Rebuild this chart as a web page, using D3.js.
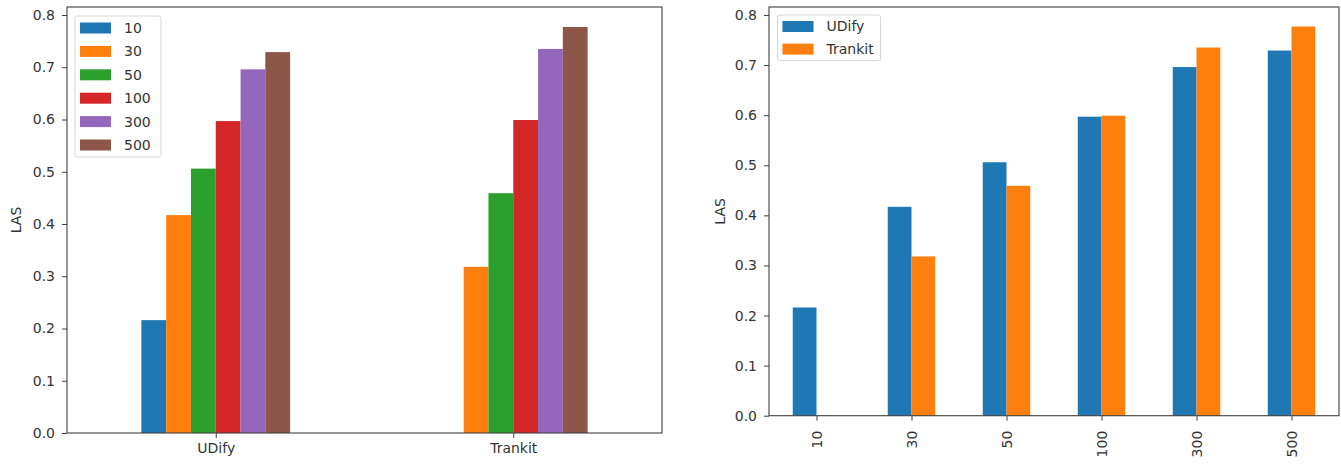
<!DOCTYPE html>
<html><head><meta charset="utf-8">
<script src="https://cdn.jsdelivr.net/npm/d3@7"></script>
<style>
html,body{margin:0;padding:0;background:#fff;}
text{font-family:"DejaVu Sans",sans-serif;}
</style></head>
<body><svg id="c" width="1341" height="464"></svg>
<script>
const models = ["UDify", "Trankit"];
const sizes = ["10", "30", "50", "100", "300", "500"];
const udify = [0.216, 0.417, 0.506, 0.597, 0.696, 0.729];
const trankit = [null, 0.318, 0.459, 0.599, 0.735, 0.777];
const yTicks = [0.0, 0.1, 0.2, 0.3, 0.4, 0.5, 0.6, 0.7, 0.8];
const sizeColors = ["#1f77b4", "#ff7f0e", "#2ca02c", "#d62728", "#9467bd", "#8c564b"];
const modelColors = ["#1f77b4", "#ff7f0e"];
const yLabel = "LAS";

const svg = d3.select("#c");
const byModel = [udify, trankit];
const FS = 14, TXT = "#333", AX = "#404040";

function panel(box, nCat, catLabels, nSer, getVal, colors, serLabels, rotate, legendW) {
  const x = d3.scaleLinear().domain([-0.5, nCat - 0.5]).range([box.l, box.r]);
  const y = d3.scaleLinear().domain([0, 0.8]).range([box.b, box.y08]);
  const g = svg.append("g");
  const total = 0.5, w = total / nSer;
  for (let s = 0; s < nSer; s++) {
    for (let c = 0; c < nCat; c++) {
      const v = getVal(s, c);
      if (v == null) continue;
      const x0 = x(c - total / 2 + s * w), x1 = x(c - total / 2 + (s + 1) * w);
      g.append("rect").attr("x", x0).attr("y", y(v)).attr("width", x1 - x0)
        .attr("height", y(0) - y(v)).attr("fill", colors[s]);
    }
  }
  // frame
  g.append("rect").attr("x", box.l).attr("y", box.t).attr("width", box.r - box.l)
    .attr("height", box.b - box.t).attr("fill", "none").attr("stroke", AX).attr("stroke-width", 1.1);
  // y axis
  const ya = g.append("g").attr("transform", `translate(${box.l},0)`)
    .call(d3.axisLeft(y).tickValues(yTicks).tickFormat(d3.format(".1f")).tickSize(5).tickPadding(7));
  ya.select(".domain").remove();
  ya.selectAll("line").attr("stroke", AX);
  ya.selectAll("text").attr("font-size", FS).attr("fill", TXT).style("font-family", "DejaVu Sans");
  // x axis
  const xa = g.append("g").attr("transform", `translate(0,${box.b})`)
    .call(d3.axisBottom(x).tickValues(d3.range(nCat)).tickFormat(i => catLabels[i]).tickSize(5).tickPadding(5));
  xa.select(".domain").remove();
  xa.selectAll("line").attr("stroke", AX);
  xa.selectAll("text").attr("font-size", FS).attr("fill", TXT).style("font-family", "DejaVu Sans");
  if (rotate) {
    xa.selectAll("text").attr("transform", "rotate(-90)").attr("text-anchor", "end")
      .attr("x", -15).attr("y", 0).attr("dy", "0.35em");
  }
  // y label
  g.append("text").attr("transform", `translate(${box.yl},${(box.t + box.b) / 2}) rotate(-90)`)
    .attr("text-anchor", "middle").attr("font-size", FS).attr("fill", TXT).text(yLabel);
  // legend
  const L = box.leg;
  const lg = g.append("g");
  lg.append("rect").attr("x", L.x).attr("y", L.y).attr("width", legendW)
    .attr("height", L.pad * 2 + serLabels.length * L.step - (L.step - 11))
    .attr("rx", 2.5).attr("fill", "#fff").attr("fill-opacity", 0.8)
    .attr("stroke", "#d6d6d6").attr("stroke-width", 1);
  serLabels.forEach((lab, i) => {
    const cy = L.y + L.pad + 5.5 + i * L.step;
    lg.append("rect").attr("x", L.x + 5).attr("y", cy - 5.5).attr("width", 31).attr("height", 11).attr("fill", colors[i]);
    lg.append("text").attr("x", L.x + 49).attr("y", cy).attr("dy", "0.35em")
      .attr("font-size", FS).attr("fill", TXT).text(lab);
  });
}

panel({l: 67, r: 662, t: 7, b: 433, y08: 15, yl: 21, leg: {x: 75, y: 16, pad: 6.5, step: 23.4}},
  models.length, models, sizes.length, (s, c) => byModel[c][s], sizeColors, sizes, false, 86);

panel({l: 769, r: 1339, t: 7, b: 415.7, y08: 15, yl: 725, leg: {x: 777.5, y: 15, pad: 6, step: 22.6}},
  sizes.length, sizes, models.length, (s, c) => byModel[s][c], modelColors, models, true, 103);
</script></body></html>
